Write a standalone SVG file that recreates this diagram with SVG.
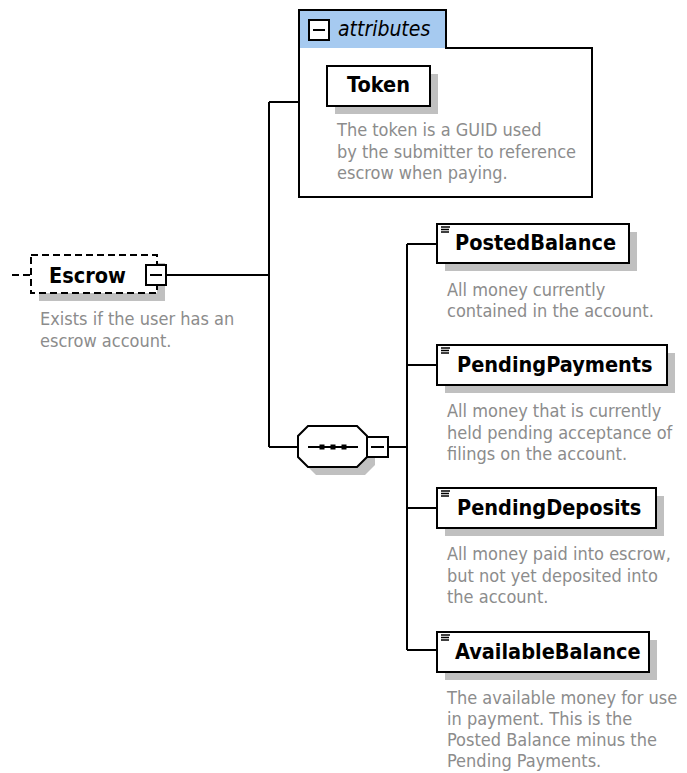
<svg xmlns="http://www.w3.org/2000/svg" width="687" height="773" viewBox="0 0 687 773">
<style>
.t{font-family:"DejaVu Sans Condensed","DejaVu Sans",sans-serif;font-stretch:semi-condensed;}
.name{font-size:21.5px;font-weight:bold;fill:#000;}
.desc{font-size:18px;fill:#8c8c8c;}
.box{fill:#fff;stroke:#000;stroke-width:2;}
.shadow{fill:#c0c0c0;}
.ln{fill:none;stroke:#000;stroke-width:2;}
.ic{stroke:#000;stroke-width:1.3;}
</style>
<rect width="687" height="773" fill="#fff"/>
<g id="connectors" class="ln">
<path d="M166,275 H269 M269,102 V447 M269,102 H299 M269,447 H298 M388,447 H407 M407,244 V650 M407,244 H437 M407,365 H437 M407,508 H437 M407,650 H437"/>
<path d="M12,275 H31" stroke-dasharray="7,4"/>
</g>
<g id="escrow">
<rect class="shadow" x="39" y="263" width="126" height="38"/>
<rect x="31" y="255" width="126" height="38" fill="#fff" stroke="#000" stroke-width="2" stroke-dasharray="7,4"/>
<text class="t name" x="49" y="283">Escrow</text>
<rect class="box" x="146" y="265" width="20" height="20"/>
<path class="ln" d="M150,275 H162"/>
<text class="t desc" x="40" y="325">Exists if the user has an</text>
<text class="t desc" x="40" y="346.5">escrow account.</text>
</g>
<g id="attributes">
<path class="box" d="M299,197 V10 H446 V48 H592 V197 Z"/>
<rect x="300" y="11" width="145" height="37" fill="#a6caf0"/>
<rect class="box" x="309" y="20" width="20" height="20"/>
<path class="ln" d="M313,30 H325"/>
<text class="t" x="338" y="36" font-size="21px" font-style="italic" fill="#000">attributes</text>
</g>
<g id="token">
<rect class="shadow" x="335" y="74" width="103" height="40"/>
<rect class="box" x="327" y="66" width="103" height="40"/>
<text class="t name" x="378.5" y="92" text-anchor="middle">Token</text>
<text class="t desc" x="337" y="136">The token is a GUID used</text>
<text class="t desc" x="337" y="157.5">by the submitter to reference</text>
<text class="t desc" x="337" y="179">escrow when paying.</text>
</g>
<g id="sequence">
<polygon class="shadow" points="316,434 365,434 375,444 375,465 365,475 316,475 306,465 306,444"/>
<polygon class="box" points="308,426 357,426 367,436 367,457 357,467 308,467 298,457 298,436"/>
<path class="ln" d="M308,447 H358"/>
<rect x="319.5" y="444.5" width="5" height="5" fill="#000"/>
<rect x="330.5" y="444.5" width="5" height="5" fill="#000"/>
<rect x="341.5" y="444.5" width="5" height="5" fill="#000"/>
<rect class="box" x="367" y="437" width="21" height="20"/>
<path class="ln" d="M371,447 H384"/>
</g>
<g id="postedbalance">
<rect class="shadow" x="445" y="232" width="192" height="39"/>
<rect class="box" x="437" y="224" width="192" height="39"/>
<path class="ic" d="M441,227 H450 M441,229.5 H449 M441,232 H449"/>
<text class="t name" x="455" y="250">PostedBalance</text>
<text class="t desc" x="447" y="295.5">All money currently</text>
<text class="t desc" x="447" y="317">contained in the account.</text>
</g>
<g id="pendingpayments">
<rect class="shadow" x="445" y="353" width="230" height="40"/>
<rect class="box" x="437" y="345" width="230" height="40"/>
<path class="ic" d="M441,348 H450 M441,350.5 H449 M441,353 H449"/>
<text class="t name" x="457" y="372">PendingPayments</text>
<text class="t desc" x="447" y="417">All money that is currently</text>
<text class="t desc" x="447" y="438.5">held pending acceptance of</text>
<text class="t desc" x="447" y="460">filings on the account.</text>
</g>
<g id="pendingdeposits">
<rect class="shadow" x="445" y="496" width="219" height="40"/>
<rect class="box" x="437" y="488" width="219" height="40"/>
<path class="ic" d="M441,491 H450 M441,493.5 H449 M441,496 H449"/>
<text class="t name" x="457" y="515">PendingDeposits</text>
<text class="t desc" x="447" y="560">All money paid into escrow,</text>
<text class="t desc" x="447" y="581.5">but not yet deposited into</text>
<text class="t desc" x="447" y="603">the account.</text>
</g>
<g id="availablebalance">
<rect class="shadow" x="445" y="640" width="212" height="40"/>
<rect class="box" x="437" y="632" width="212" height="40"/>
<path class="ic" d="M441,635 H450 M441,637.5 H449 M441,640 H449"/>
<text class="t name" x="455" y="659">AvailableBalance</text>
<text class="t desc" x="447" y="703.5">The available money for use</text>
<text class="t desc" x="447" y="725">in payment. This is the</text>
<text class="t desc" x="447" y="746">Posted Balance minus the</text>
<text class="t desc" x="447" y="767">Pending Payments.</text>
</g>
</svg>
